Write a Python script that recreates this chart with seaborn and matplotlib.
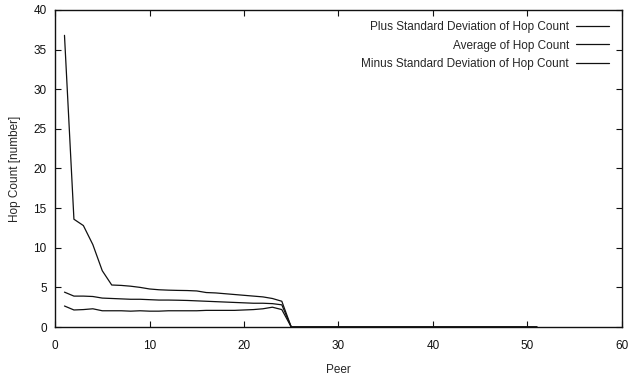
import numpy as np
import pandas as pd
import matplotlib
matplotlib.use("Agg")
import matplotlib.pyplot as plt
import seaborn as sns

# Hop count statistics per peer (peers 1..51)
peers = list(range(1, 52))
plus_std = [36.8, 13.6, 12.8, 10.4, 7.1, 5.3, 5.25, 5.15, 5.0, 4.8,
            4.7, 4.65, 4.62, 4.6, 4.55, 4.35, 4.3, 4.2, 4.1, 4.0,
            3.9, 3.8, 3.6, 3.25] + [0.0] * 27
average = [4.4, 3.9, 3.9, 3.85, 3.65, 3.6, 3.55, 3.5, 3.5, 3.45,
           3.4, 3.4, 3.38, 3.35, 3.3, 3.25, 3.2, 3.15, 3.1, 3.05,
           3.0, 3.0, 2.95, 2.8] + [0.0] * 27
minus_std = [2.65, 2.15, 2.2, 2.3, 2.05, 2.05, 2.05, 2.0, 2.05, 2.0,
             2.0, 2.05, 2.05, 2.05, 2.05, 2.1, 2.1, 2.1, 2.1, 2.15,
             2.2, 2.3, 2.5, 2.2] + [0.0] * 27

series_names = ["Plus Standard Deviation of Hop Count",
                "Average of Hop Count",
                "Minus Standard Deviation of Hop Count"]

df = pd.concat([
    pd.DataFrame({"Peer": peers, "value": vals, "series": name})
    for name, vals in zip(series_names, [plus_std, average, minus_std])
])

sns.set_style("ticks")
plt.rcParams["font.family"] = ["Liberation Sans", "DejaVu Sans"]
fs = 8.5
plt.rcParams["font.size"] = fs

fig = plt.figure(figsize=(6.34, 3.84), dpi=100)
ax = fig.add_axes([0.0868, 0.1484, 0.8942, 0.8256])

sns.lineplot(data=df, x="Peer", y="value", hue="series",
             hue_order=series_names,
             palette=["#111111", "#111111", "#111111"],
             linewidth=0.9, ax=ax)

ax.set_xlim(0, 60)
ax.set_ylim(0, 40)
ax.set_xticks(range(0, 61, 10))
ax.set_yticks(range(0, 41, 5))
ax.tick_params(direction="in", length=4, width=0.8, top=True, right=True,
               labelsize=fs, colors="#111111")
ax.tick_params(axis="x", pad=9)
ax.tick_params(axis="y", pad=6)
for s in ax.spines.values():
    s.set_linewidth(1.0)
    s.set_color("#111111")

ax.set_xlabel("Peer", fontsize=fs, labelpad=9)
ax.set_ylabel("Hop Count [number]", fontsize=fs, labelpad=9)

leg = ax.legend(loc="upper right", bbox_to_anchor=(0.977, 0.965),
                frameon=False, markerfirst=False, fontsize=fs,
                borderaxespad=0, borderpad=0,
                handlelength=2.8, handletextpad=0.6, labelspacing=0.55)

fig.savefig("out.png", dpi=100)
